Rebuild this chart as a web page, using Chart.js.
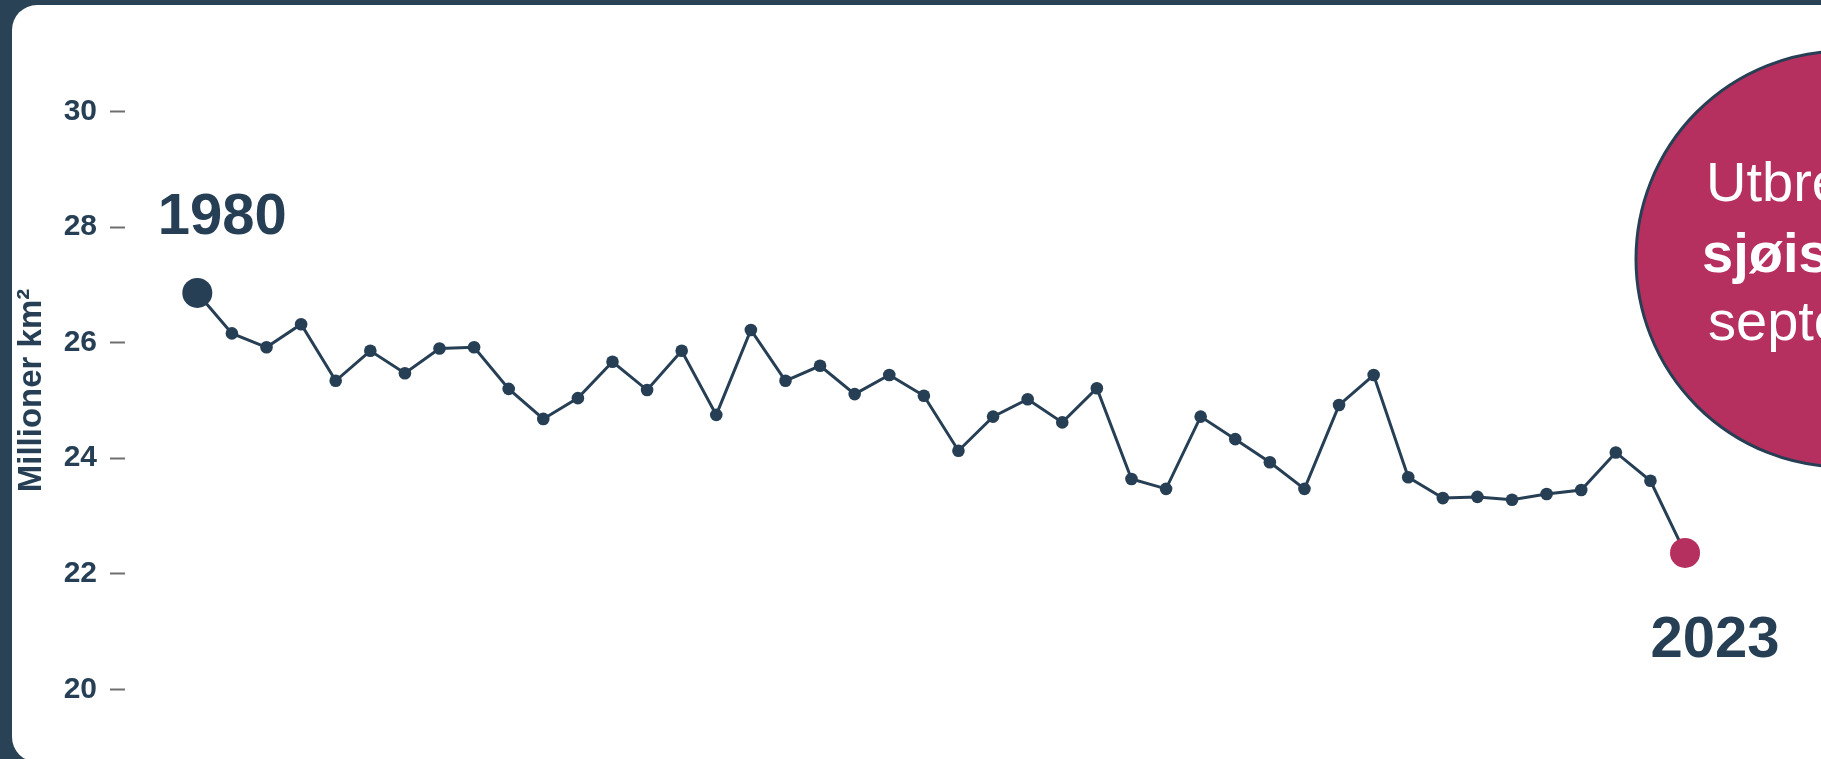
<!DOCTYPE html>
<html lang="no">
<head>
<meta charset="utf-8">
<title>Utbredelse av sjøis i september</title>
<script src="https://cdn.jsdelivr.net/npm/chart.js@4.4.1/dist/chart.umd.min.js"></script>
<style>
  html, body { margin: 0; padding: 0; width: 1821px; height: 759px; overflow: hidden; background: #2a4256; }
  .card { position: absolute; left: 12px; top: 5px; width: 1860px; height: 757px; background: #ffffff; border-radius: 25px; }
  .wrap { position: absolute; left: 0; top: 0; width: 1821px; height: 759px; }
</style>
</head>
<body>
<div class="card"></div>
<div class="wrap"><canvas id="chart1" width="1821" height="759"></canvas></div>
<script>
"use strict";
const NAVY = '#263f55';
const PINK = '#b5305f';
const FONT = '"Liberation Sans", Arial, Helvetica, sans-serif';

// År (september hvert år)
const years = [
    1980, 1981, 1982, 1983, 1984, 1985, 1986, 1987, 1988, 1989,
    1990, 1991, 1992, 1993, 1994, 1995, 1996, 1997, 1998, 1999,
    2000, 2001, 2002, 2003, 2004, 2005, 2006, 2007, 2008, 2009,
    2010, 2011, 2012, 2013, 2014, 2015, 2016, 2017, 2018, 2019,
    2020, 2021, 2022, 2023
];
// Utbredelse av sjøis, millioner km²
const extent = [
    26.86, 26.16, 25.92, 26.32, 25.34, 25.86, 25.47, 25.90, 25.92, 25.20,
    24.68, 25.04, 25.67, 25.18, 25.86, 24.75, 26.22, 25.34, 25.60, 25.11,
    25.44, 25.08, 24.13, 24.72, 25.02, 24.62, 25.21, 23.64, 23.47, 24.72,
    24.33, 23.93, 23.47, 24.92, 25.44, 23.67, 23.31, 23.33, 23.28, 23.38,
    23.45, 24.10, 23.61, 22.36
];
const yTicks = [20, 22, 24, 26, 28, 30];
const bubbleLines = [
    { text: 'Utbredelse', bold: false },
    { text: 'sjøisen globalt', bold: true },
    { text: 'september', bold: false }
];

const last = extent.length - 1;

// Årstall ved første og siste punkt + sirkelen til høyre
const annotations = {
    id: 'annotations',
    afterDatasetsDraw(chart) {
        const { ctx, scales: { x, y } } = chart;
        ctx.save();
        ctx.fillStyle = NAVY;
        ctx.font = `bold 58px ${FONT}`;
        ctx.textAlign = 'center';
        ctx.textBaseline = 'alphabetic';
        ctx.fillText(String(years[0]), x.getPixelForValue(years[0]) + 25, y.getPixelForValue(extent[0]) - 59);
        ctx.fillText(String(years[last]), x.getPixelForValue(years[last]) + 30, y.getPixelForValue(extent[last]) + 104);

        // sirkel
        ctx.beginPath();
        ctx.arc(1844, 259, 208, 0, Math.PI * 2);
        ctx.fillStyle = PINK;
        ctx.fill();
        ctx.lineWidth = 3;
        ctx.strokeStyle = NAVY;
        ctx.stroke();

        ctx.fillStyle = '#ffffff';
        ctx.textAlign = 'left';
        const lineX = [1706, 1702, 1708];
        const lineY = [200.7, 271.7, 340];
        bubbleLines.forEach((line, i) => {
            ctx.font = `${line.bold ? 'bold ' : ''}56px ${FONT}`;
            ctx.fillText(line.text, lineX[i], lineY[i]);
        });
        ctx.restore();
    }
};

window.addEventListener('DOMContentLoaded', () => {
    const ctx = document.getElementById('chart1');
    new Chart(ctx, {
        type: 'line',
        data: {
            datasets: [{
                data: years.map((yr, i) => ({ x: yr, y: extent[i] })),
                borderColor: NAVY,
                borderWidth: 3,
                tension: 0,
                pointRadius: c => (c.dataIndex === 0 || c.dataIndex === last) ? 15 : 6.3,
                pointHoverRadius: c => (c.dataIndex === 0 || c.dataIndex === last) ? 15 : 6.3,
                pointBackgroundColor: c => c.dataIndex === last ? PINK : NAVY,
                pointBorderWidth: 0,
                clip: false
            }]
        },
        options: {
            responsive: false,
            animation: false,
            layout: { autoPadding: false, padding: { left: 12, top: 42.7, right: 0, bottom: 20.7 } },
            plugins: {
                legend: { display: false },
                tooltip: { enabled: false }
            },
            scales: {
                x: { type: 'linear', display: false, min: 1977.91, max: 2026.93 },
                y: {
                    min: 19.152,
                    max: 31.192,
                    afterBuildTicks: axis => { axis.ticks = yTicks.map(v => ({ value: v })); },
                    afterFit: scale => {
                        scale.width = 113;
                        scale.paddingTop = 0;
                        scale.paddingBottom = 0;
                    },
                    border: { display: false },
                    grid: {
                        drawOnChartArea: false,
                        drawTicks: true,
                        tickLength: 15,
                        tickWidth: 2,
                        tickColor: '#6e6e6e'
                    },
                    ticks: {
                        padding: 13,
                        color: NAVY,
                        font: { family: FONT, size: 30, weight: 'bold' }
                    },
                    title: {
                        display: true,
                        text: 'Millioner km²',
                        color: NAVY,
                        font: { family: FONT, size: 33, weight: 'bold' },
                        padding: { top: 0, bottom: 13 }
                    }
                }
            }
        },
        plugins: [annotations]
    });
});
</script>
</body>
</html>
